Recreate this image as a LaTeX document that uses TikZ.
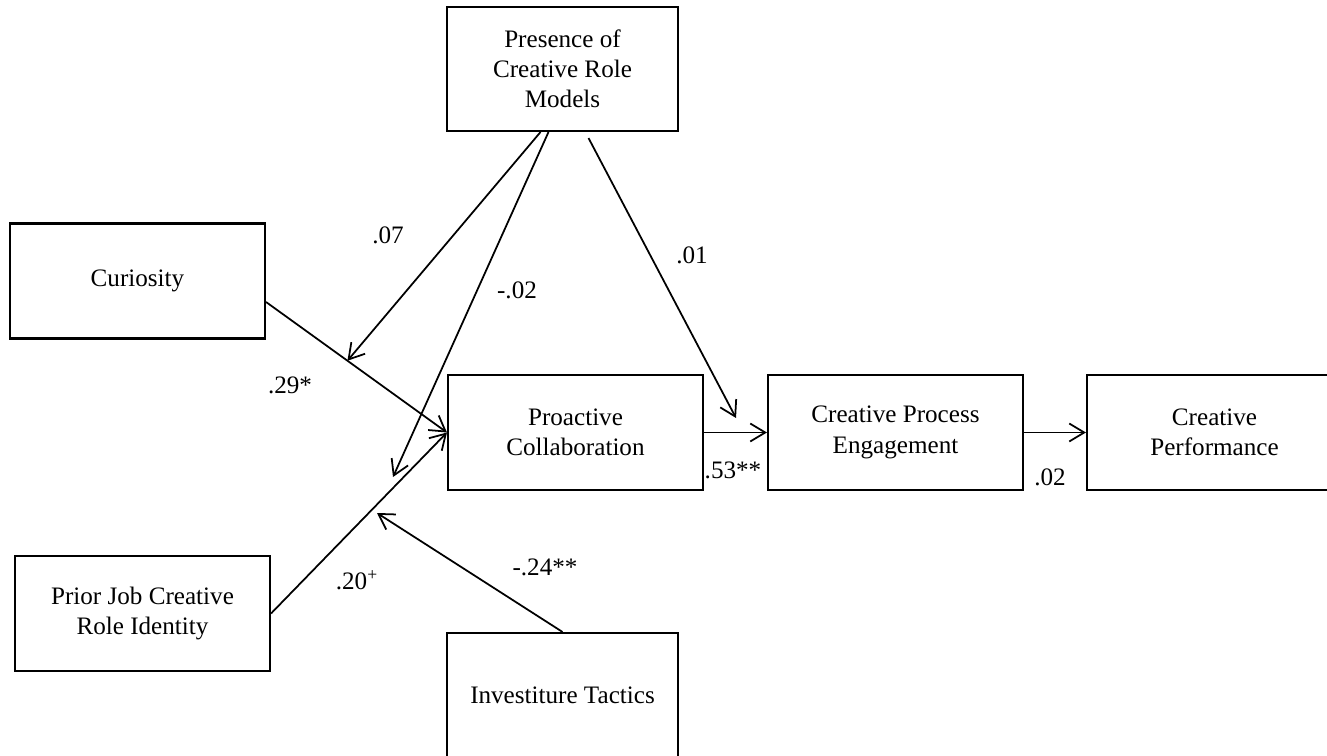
\documentclass[tikz,border=0pt]{standalone}
\usepackage{fontspec}
\setmainfont{Liberation Serif}
\usepackage{tikz}
\usetikzlibrary{calc, arrows.meta, positioning}

\begin{document}
\begin{tikzpicture}[x=0.02cm, y=-0.02cm,
        every node/.style={font=\fontsize{14.3}{17.2}\selectfont},
        box/.style={draw, line width=1.2pt, align=center, inner sep=0pt,
            minimum width=5.1cm, minimum height=2.3cm},
        tallbox/.style={box, minimum width=4.62cm, minimum height=2.48cm},
        arr/.style={-{Straight Barb[length=3mm, width=3.6mm]}, line width=1pt}]
           \useasboundingbox (0,0) rectangle (1327,756);

           % boxes
           \node[tallbox] (pres) at (562.5, 69){Presence of\\Creative Role\\Models};
           \node[box] (cur) at (137.5, 281){Curiosity};
           \node[box] (prior) at (142.5, 613.5){Prior Job Creative\\Role Identity};
           \node[box] (pro) at (575.5, 432.5){Proactive\\Collaboration};
           \node[box] (cpe) at (895.5, 432.5){Creative Process\\Engagement};
           \node[box] (perf) at (1214.5, 432.5){Creative\\Performance};
           \node[tallbox] (inv) at (562.5, 695){Investiture Tactics};

           % main paths
           \coordinate (c_1) at ($(cur.east) + (0, 21)$);
           \draw[arr] (c_1) -- (pro.west);
           \draw[arr] (prior.east) -- (pro.west);
           \draw[arr] (pro.east) -- (cpe.west);
           \draw[arr] (cpe.east) -- (perf.west);

           % moderators
           \coordinate (m_1) at ($(c_1)!0.45!(pro.west)$);
           \coordinate (m_2) at (393, 477);
           \coordinate (m_3) at (736, 418);
           \coordinate (m_4) at (377, 513);
           \draw[arr] ($(pres.south) + (-22, 0)$) -- (m_1);
           \draw[arr] ($(pres.south) + (-14, 0)$) -- (m_2);
           \draw[arr] ($(pres.south) + (26, 6)$) -- (m_3);
           \draw[arr] (inv.north) -- (m_4);

           % coefficients
           \node (l_07) at (388, 235){.07};
           \node (l_29) at (290, 385){.29*};
           \node (l_m02) at (517, 290){-.02};
           \node (l_01) at (692, 255){.01};
           \node (l_20) at (357, 580){.20\textsuperscript{+}};
           \node (l_m24) at (545, 567){-.24**};
           \node (l_53) at (733, 470){.53**};
           \node (l_02) at (1050, 477){.02};
       \end{tikzpicture}
\end{document}
